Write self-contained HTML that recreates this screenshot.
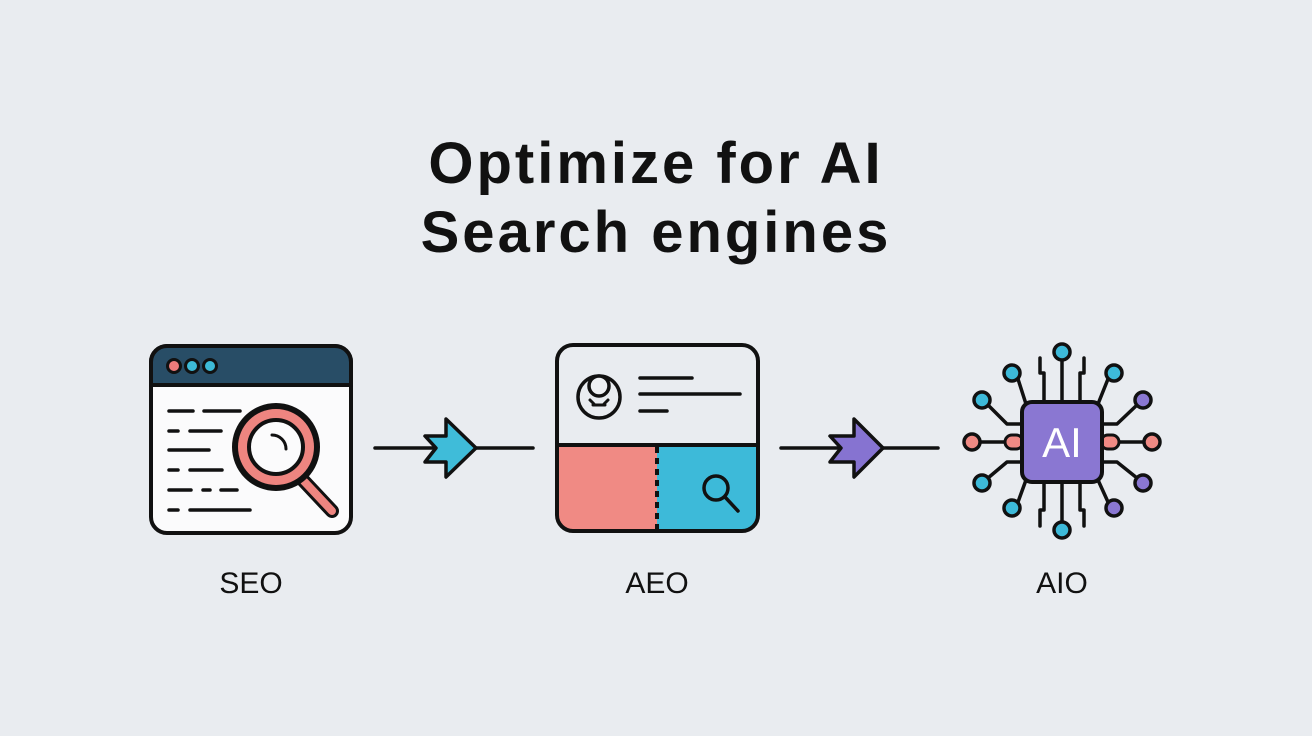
<!DOCTYPE html>
<html><head><style>
html,body{margin:0;padding:0;background:#e9ecf0;}
svg{display:block}
</style></head><body>
<svg width="1312" height="736" viewBox="0 0 1312 736" xmlns="http://www.w3.org/2000/svg">
<rect width="1312" height="736" fill="#e9ecf0"/>
<g font-family="Liberation Sans, sans-serif" text-anchor="middle" fill="#111">
<text x="656" y="183" font-size="58" font-weight="700" letter-spacing="3">Optimize for AI</text>
<text x="656" y="252" font-size="58" font-weight="700" letter-spacing="3">Search engines</text>
<text x="251" y="593" font-size="30">SEO</text>
<text x="657" y="593" font-size="30">AEO</text>
<text x="1062" y="593" font-size="30">AIO</text>
</g>
<g stroke="#111" stroke-width="4" stroke-linecap="round" stroke-linejoin="round">
<!-- SEO -->
<rect x="151" y="346" width="200" height="187" rx="16" fill="#fbfbfc"/>
<path d="M151 385 V362 a16 16 0 0 1 16 -16 H335 a16 16 0 0 1 16 16 V385 Z" fill="#284d66"/>
<circle cx="174" cy="366" r="6.5" fill="#ee7b7b" stroke-width="3"/>
<circle cx="192" cy="366" r="6.5" fill="#3dbad6" stroke-width="3"/>
<circle cx="210" cy="366" r="6.5" fill="#3dbad6" stroke-width="3"/>
<g stroke-width="3.5">
<path d="M169 411H193M204 411H240M169 431H178M190 431H221M169 450H209M169 470H178M190 470H222M169 490H191M203 490H210M221 490H237M169 510H178M190 510H250"/>
</g>
<line x1="301" y1="478" x2="332" y2="511" stroke-width="14"/>
<line x1="301" y1="478" x2="332" y2="511" stroke="#ee8580" stroke-width="8"/>
<circle cx="276" cy="447" r="42" fill="#111"/>
<circle cx="276" cy="447" r="38" fill="#ee8580" stroke="none"/>
<circle cx="276" cy="447" r="27" fill="#fbfbfc"/>
<path d="M272 435 a14 14 0 0 1 14 14" fill="none" stroke-width="3"/>
<!-- arrow 1 -->
<line x1="375" y1="448" x2="533" y2="448" stroke-width="3.5"/>
<path d="M446 419 L476 448 L446 477 L446 462 L425 462 L436 448 L425 436 L446 436 Z" fill="#3fbcd9" stroke-width="3.5"/>
<!-- AEO -->
<path d="M557 445 H657 V531 H573 a16 16 0 0 1 -16 -16 Z" fill="#f08a84" stroke="none"/>
<path d="M657 445 H758 V515 a16 16 0 0 1 -16 16 H657 Z" fill="#3dbad9" stroke="none"/>
<rect x="557" y="345" width="201" height="186" rx="16" fill="none"/>
<line x1="557" y1="445" x2="758" y2="445"/>
<line x1="657" y1="447" x2="657" y2="530" stroke-dasharray="6 5" stroke-linecap="butt"/>
<circle cx="599" cy="397" r="21" fill="none" stroke-width="3.5"/>
<circle cx="599" cy="386" r="10" fill="#eef0f3" stroke-width="3.5"/>
<path d="M590 400 l4 4 M608 400 l-4 4 M593 405 H605" stroke-width="3"/>
<path d="M640 378H692M640 394H740M640 411H667" stroke-width="3.5"/>
<circle cx="716" cy="488" r="12" fill="none" stroke-width="3.5"/>
<line x1="725" y1="497" x2="738" y2="511" stroke-width="3.5"/>
<!-- arrow 2 -->
<line x1="781" y1="448" x2="938" y2="448" stroke-width="3.5"/>
<path d="M854 419 L883 448 L854 477 L854 462 L830 462 L841 448 L830 436 L854 436 Z" fill="#8673d1" stroke-width="3.5"/>
<!-- AIO circuit -->
<g fill="none" stroke-width="3.5">
<path d="M1062 402 V360"/>
<path d="M1044 402 V373 H1040 V358"/>
<path d="M1080 402 V373 H1084 V358"/>
<path d="M1062 482 V522"/>
<path d="M1044 482 V510 H1040 V526"/>
<path d="M1080 482 V510 H1084 V526"/>
<path d="M1026 404 L1018 379"/>
<path d="M1098 404 L1108 379"/>
<path d="M1022 424 L1007 424 L988 405"/>
<path d="M1102 424 L1117 424 L1137 405"/>
<path d="M980 442 H1022"/>
<path d="M1102 442 H1144"/>
<path d="M1022 462 L1007 462 L988 478"/>
<path d="M1102 462 L1117 462 L1137 478"/>
<path d="M1026 480 L1018 502"/>
<path d="M1098 480 L1108 502"/>
</g>
<rect x="1005" y="435" width="18" height="14" rx="7" fill="#f08a84" stroke-width="3"/>
<rect x="1101" y="435" width="18" height="14" rx="7" fill="#f08a84" stroke-width="3"/>
<rect x="1022" y="402" width="80" height="80" rx="10" fill="#8a77d2"/>
<g stroke-width="3.5">
<circle cx="1062" cy="352" r="8" fill="#3dbad9"/>
<circle cx="1012" cy="373" r="8" fill="#3dbad9"/>
<circle cx="1114" cy="373" r="8" fill="#3dbad9"/>
<circle cx="982" cy="400" r="8" fill="#3dbad9"/>
<circle cx="1143" cy="400" r="8" fill="#8a77d2"/>
<circle cx="972" cy="442" r="8" fill="#f08a84"/>
<circle cx="1152" cy="442" r="8" fill="#f08a84"/>
<circle cx="982" cy="483" r="8" fill="#3dbad9"/>
<circle cx="1143" cy="483" r="8" fill="#8a77d2"/>
<circle cx="1012" cy="508" r="8" fill="#3dbad9"/>
<circle cx="1114" cy="508" r="8" fill="#8a77d2"/>
<circle cx="1062" cy="530" r="8" fill="#3dbad9"/>
</g>
</g>
<text x="1062" y="457" font-family="Liberation Sans, sans-serif" font-size="42" fill="#fff" text-anchor="middle">AI</text>
</svg>
</body></html>
